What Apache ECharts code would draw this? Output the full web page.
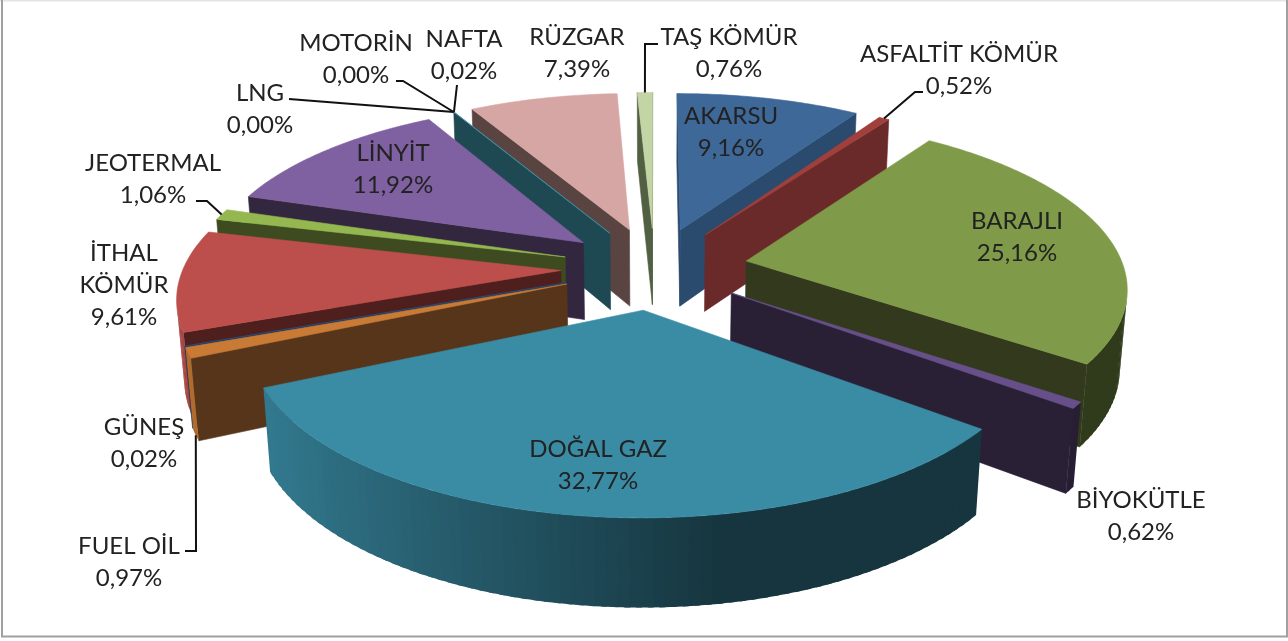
<!DOCTYPE html>
<html><head><meta charset="utf-8">
<style>html,body{margin:0;padding:0;background:#fff}#c{width:1288px;height:641px}</style>
<script src="https://cdn.jsdelivr.net/npm/echarts@6/dist/echarts.min.js"></script>
</head><body><div id="c"></div>
<script>
const categories = ['AKARSU','ASFALTİT KÖMÜR','BARAJLI','BİYOKÜTLE','DOĞAL GAZ','FUEL OİL','GÜNEŞ','İTHAL KÖMÜR','JEOTERMAL','LİNYİT','LNG','MOTORİN','NAFTA','RÜZGAR','TAŞ KÖMÜR'];
const shares = [9.16,0.52,25.16,0.62,32.77,0.97,0.02,9.61,1.06,11.92,0.00,0.00,0.02,7.39,0.76];

const topColors = ['#3E6898','#A03F3B','#7F9A48','#67508A','#3A8CA5','#C97B35','#2D4D7A','#BC4F4C','#94B750','#7F60A0','#4A9CB2','#C97B35','#4A9CB2','#D6A6A5','#C3D5A5'];
const wallColors = ['#2A4A6E','#6B2A2A','#33391C','#2A2035','#17373F','#57351A','#1E3350','#4F1F1D','#3E4A20','#33263F','#1E4852','#57351A','#1E4852','#5A4442','#515F42'];

// label text lines, their centre x and the y of each line
const labelLines = [['AKARSU'],['ASFALTİT KÖMÜR'],['BARAJLI'],['BİYOKÜTLE'],['DOĞAL GAZ'],['FUEL OİL'],['GÜNEŞ'],['İTHAL','KÖMÜR'],['JEOTERMAL'],['LİNYİT'],['LNG'],['MOTORİN'],['NAFTA'],['RÜZGAR'],['TAŞ KÖMÜR']];
const labelX = [731,959,1017,1141,598,129,144,124,153,393,260,356,464,577,729];
const labelY = [116,54,221,500,449,546,427,253,163,153,93,43,39,37,37];
const lineGap = 32;
// leader elbows near the labels (null = no leader)
const leaders = [null,[[915,92],[923,92]],null,null,null,[[196,551],[185,551]],null,null,[[207,201],[196,201]],null,[[289,99]],[[403,81],[396,81]],[[457,85]],null,[[645,44],[658,44]]];
const leaderFromBase = [false,false,false,false,false,true,false,false,false,false,false,false,false,false,false];

// camera of the tilted, exploded pie
const CX=654.5, CY=268, FOCAL_X=2420, FOCAL_Y=2436, DIST=6.41, ELEV=25.8*Math.PI/180, EXPLODE=0.248, THICK=0.232;
const sinE=Math.sin(ELEV), cosE=Math.cos(ELEV);
function project(x,y,z){
  const d=DIST+y*cosE-z*sinE, up=y*sinE+z*cosE;
  return [CX+FOCAL_X*x/d, CY-FOCAL_Y*up/d];
}
const total = shares.reduce((a,b)=>a+b,0);
const toAngle = v => echarts.number.linearMap(v,[0,total],[0,2*Math.PI]);
const startOf = i => shares.slice(0,i).reduce((a,b)=>a+b,0);
// painter's order: far slices first
const midOf = i => toAngle(startOf(i)+shares[i]/2);
const order = shares.map((_,i)=>i).sort((a,b)=>Math.cos(midOf(b))-Math.cos(midOf(a)));
const rankOf = i => order.indexOf(i);

function shade(hex,f){
  const n=parseInt(hex.slice(1),16);
  const c=[n>>16&255,n>>8&255,n&255].map(v=>Math.round(Math.min(255,v*f)));
  return 'rgb('+c.join(',')+')';
}
function area(p){let s=0;for(let i=0;i<p.length;i++){const a=p[i],b=p[(i+1)%p.length];s+=a[0]*b[1]-b[0]*a[1];}return s/2;}

function renderSlice(params,api){
  const i=params.dataIndex, v=api.value(0);
  const a0=toAngle(startOf(i)), a1=toAngle(startOf(i)+v), m=(a0+a1)/2;
  const ox=EXPLODE*Math.sin(m), oy=EXPLODE*Math.cos(m);
  const P=(t,r,z)=>project(ox+r*Math.sin(t),oy+r*Math.cos(t),z);
  const z2=(rankOf(i)+1)*10, children=[];
  const poly=(pts,fill,dz,edge)=>children.push({type:'polygon',shape:{points:pts},z2:z2+dz,
    style:edge?{fill:fill,stroke:fill,lineWidth:0.6}:{fill:fill}});
  if(v>0){
    // radial walls, only when they face the viewer
    const wall=(t,flip)=>{
      const q=[P(t,0,0),P(t,1,0),P(t,1,-THICK),P(t,0,-THICK)];
      if((area(q)>0)===flip) poly(q,wallColors[i],0,true);
    };
    wall(a0,false); wall(a1,true);
    // outer wall as overlapping strips, lit from the left
    const n=Math.max(1,Math.ceil((a1-a0)/(Math.PI/120)));
    const dt=(a1-a0)/n;
    for(let k=0;k<n;k++){
      const t0=a0+dt*k,t1=a0+dt*(k+1),tm=(t0+t1)/2;
      const t2=k<n-1?t1+dt*0.5:t1;
      const q=[P(t0,1,0),P(t2,1,0),P(t2,1,-THICK),P(t0,1,-THICK)];
      if(area(q)<0) poly(q,shade(topColors[i],Math.max(0.38,0.46-0.45*Math.sin(tm))),1,false);
    }
    // top face
    const top=[P(a0,0,0)];
    for(let k=0;k<=n*2;k++) top.push(P(a0+(a1-a0)*k/(n*2),1,0));
    poly(top,topColors[i],2,true);
  }
  // leader
  if(leaders[i]){
    const anchor=P(m,1,leaderFromBase[i]?-THICK:0);
    children.push({type:'polyline',z2:900,shape:{points:[anchor].concat(leaders[i])},
      style:{stroke:'#111',lineWidth:2,fill:null}});
  }
  // label
  const lines=labelLines[i].concat([v.toFixed(2).replace('.',',')+'%']);
  lines.forEach((t,k)=>children.push({type:'text',z2:1000,
    style:{text:t,x:labelX[i],y:labelY[i]+k*lineGap,align:'center',verticalAlign:'middle',
      fill:'#222',font:'24px Lato, "Noto Sans", sans-serif'}}));
  return {type:'group',children};
}

const chart=echarts.init(document.getElementById('c'),null,{renderer:'canvas'});
const frameLine=(x1,y1,x2,y2,c)=>({type:'line',silent:true,z:-1,shape:{x1,y1,x2,y2},style:{stroke:c,lineWidth:2}});
chart.setOption({
  animation:false,
  backgroundColor:'#fff',
  graphic:[
    frameLine(0,0.5,1288,0.5,'#e4e4e4'),
    frameLine(2,0,2,637,'#a0a0a0'),
    frameLine(1,636.5,1288,636.5,'#a0a0a0'),
    frameLine(1287,0,1287,637,'#a0a0a0')
  ],
  series:[{type:'custom',coordinateSystem:'none',clip:false,
    data:shares.map((v,i)=>({name:categories[i],value:[v]})),
    renderItem:renderSlice}]
});
</script></body></html>
